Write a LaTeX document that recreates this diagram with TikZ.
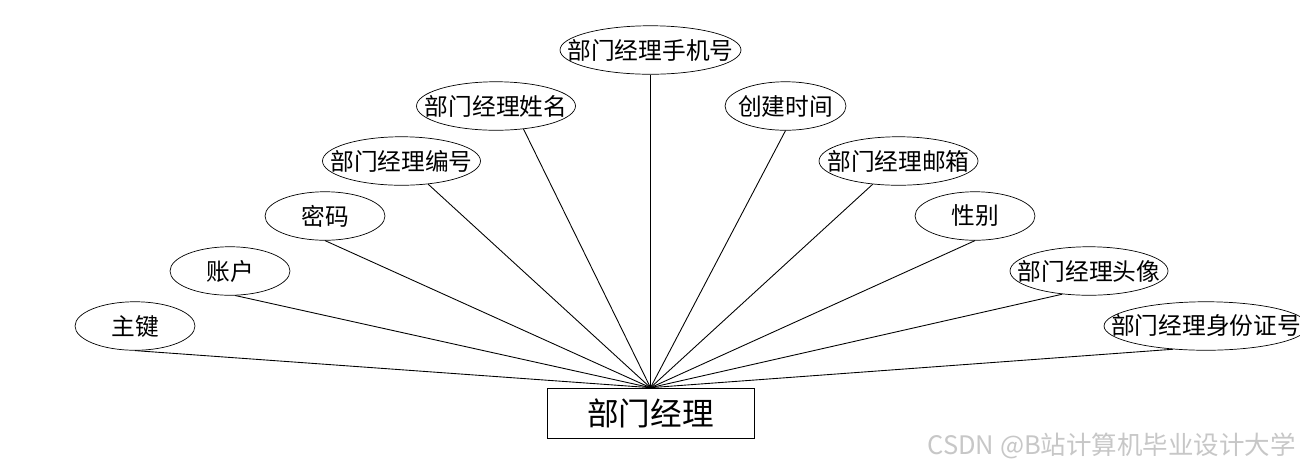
\documentclass[tikz,border=0pt]{standalone}
\usepackage{fontspec}
\setmainfont{Noto Sans CJK SC}
\usetikzlibrary{shapes.geometric}

% 属性名不参与椭圆尺寸计算
\newcommand{\attrname}[1]{\makebox[0pt]{#1}}

\tikzset{
    attr/.style={draw, ellipse, inner sep=0pt, minimum height=0.97cm, minimum width=#1,
        font=\fontsize{13.5pt}{16pt}\selectfont},
    attr/.default=2.4cm,
    entity/.style={draw, rectangle, minimum width=4.14cm, minimum height=1cm,
        font=\fontsize{18pt}{22pt}\selectfont},
    link/.style={line width=0.5pt},
    watermark/.style={text=black!22, font=\fontsize{14.5pt}{17pt}\selectfont, inner sep=0pt}
}

\begin{document}
\begin{tikzpicture}[x=0.02cm, y=-0.02cm]
    \useasboundingbox[fill=white] (0,0) rectangle (1300,468);

    % 实体
    \node[entity] (jl) at (650.5,413) {部门经理};

    % 左侧属性
    \node[attr] (zj) at (135,326) {\attrname{主键}};
    \node[attr] (zh) at (230,271) {\attrname{账户}};
    \node[attr] (mm) at (325,216) {\attrname{密码}};
    \node[attr=3.16cm] (bh) at (401.5,161) {\attrname{部门经理编号}};
    \node[attr=3.18cm] (xm) at (496,106) {\attrname{部门经理姓名}};

    % 顶部属性
    \node[attr=3.62cm] (sjh) at (650.5,50) {\attrname{部门经理手机号}};

    % 右侧属性
    \node[attr=2.42cm] (cjsj) at (785.5,106) {\attrname{创建时间}};
    \node[attr=3.18cm] (yx) at (898.5,161) {\attrname{部门经理邮箱}};
    \node[attr] (xb) at (975,216) {\attrname{性别}};
    \node[attr=3.16cm] (tx) at (1089,271) {\attrname{部门经理头像}};
    \node[attr=4.08cm] (sfz) at (1206,326) {\attrname{部门经理身份证号}};

    % 连线
    \draw[link] (zj.south) -- (jl.north);
    \draw[link] (zh.-78) -- (jl.north);
    \draw[link] (mm.south) -- (jl.north);
    \draw[link] (bh.-41) -- (jl.north);
    \draw[link] (xm.-40) -- (jl.north);
    \draw[link] (sjh.south) -- (jl.north);
    \draw[link] (cjsj.south) -- (jl.north);
    \draw[link] (yx.-138) -- (jl.north);
    \draw[link] (xb.south) -- (jl.north);
    \draw[link] (tx.-139) -- (jl.north);
    \draw[link] (sfz.-145) -- (jl.north);

    % 水印
    \node[watermark, anchor=east] (wm) at (1296,446) {CSDN @B站计算机毕业设计大学};
\end{tikzpicture}
\end{document}
